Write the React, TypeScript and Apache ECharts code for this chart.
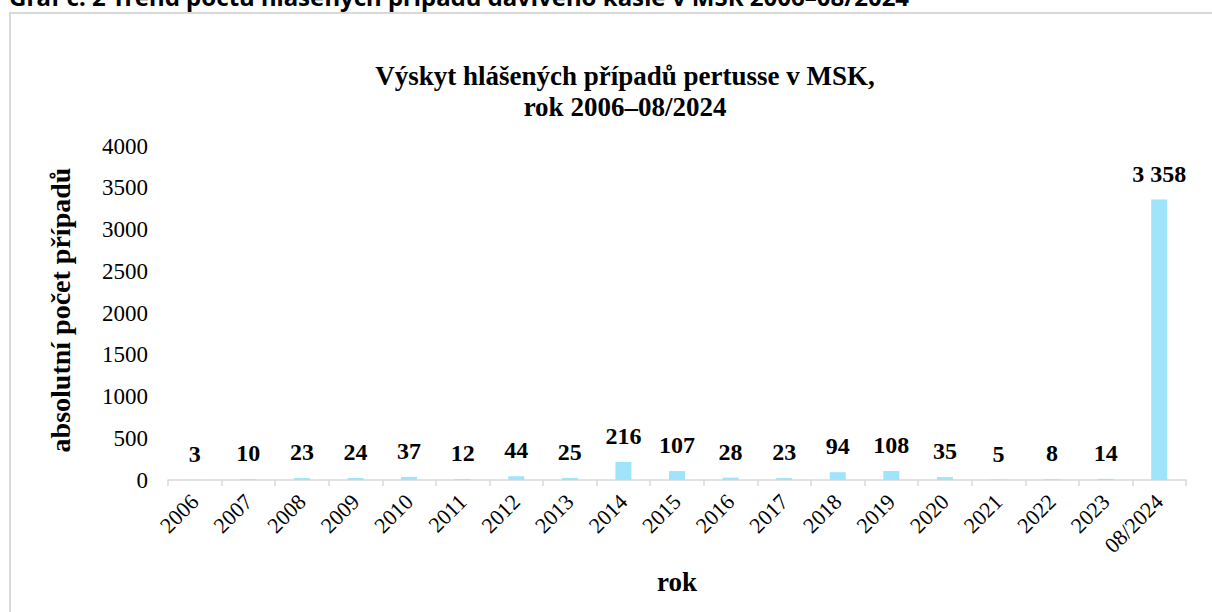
import React, { useEffect, useRef } from "react";
import * as echarts from "echarts";

const categories = ["2006","2007","2008","2009","2010","2011","2012","2013","2014","2015","2016","2017","2018","2019","2020","2021","2022","2023","08/2024"];
const cases = [3,10,23,24,37,12,44,25,216,107,28,23,94,108,35,5,8,14,3358];
const yTicks = [0, 500, 1000, 1500, 2000, 2500, 3000, 3500, 4000];

const headerText = "Graf č. 2 Trend počtu hlášených případů dávivého kašle v MSK 2006–08/2024";
const titleLine1 = "Výskyt hlášených případů pertusse v MSK,";
const titleLine2 = "rok 2006–08/2024";
const yName = "absolutní počet případů";
const xName = "rok";

const SERIF = "'Liberation Serif', 'Times New Roman', serif";

export default function App() {
  const ref = useRef<HTMLDivElement>(null);
  useEffect(() => {
    if (!ref.current) return;
    const chart = echarts.init(ref.current, undefined, { renderer: "svg" });
    chart.setOption({
      animation: false,
      backgroundColor: "#ffffff",
      grid: { left: 168, right: 26, top: 146, bottom: 132, containLabel: false },
      title: {
        text: titleLine1 + "\n" + titleLine2,
        left: 620,
        top: 55,
        textAlign: "center",
        textStyle: { fontFamily: SERIF, fontWeight: "bold", fontSize: 27, lineHeight: 31, color: "#000" },
      },
      xAxis: {
        type: "category",
        data: categories,
        name: xName,
        nameLocation: "middle",
        nameGap: 88,
        nameTextStyle: { fontFamily: SERIF, fontWeight: "bold", fontSize: 27, color: "#000" },
        axisLine: { lineStyle: { color: "#d9d9d9", width: 1.5 } },
        axisTick: { show: true, alignWithLabel: false, length: 6, lineStyle: { color: "#d9d9d9", width: 1.5 } },
        axisLabel: { rotate: 45, margin: 18, fontFamily: SERIF, fontSize: 22, color: "#000", interval: 0 },
      },
      yAxis: {
        type: "value",
        min: 0,
        max: yTicks[yTicks.length - 1],
        interval: 500,
        axisLine: { show: false },
        axisTick: { show: false },
        splitLine: { show: false },
        axisLabel: { fontFamily: SERIF, fontSize: 23, color: "#000", margin: 20, formatter: (v: number) => String(v) },
      },
      graphic: [
        {
          type: "rect",
          shape: { x: 10, y: 13, width: 1300, height: 700 },
          style: { fill: "none", stroke: "#d9d9d9", lineWidth: 2 },
          silent: true,
        },
        {
          type: "text",
          x: 9,
          y: -16,
          style: {
            text: headerText,
            font: "bold 24px 'Noto Sans', 'Open Sans', sans-serif",
            fill: "#000",
            align: "left",
            verticalAlign: "top",
          },
        },
        {
          type: "text",
          x: 60,
          y: 310,
          rotation: Math.PI / 2,
          style: {
            text: yName,
            font: "bold 28px " + SERIF,
            fill: "#000",
            align: "center",
            verticalAlign: "middle",
          },
        },
      ],
      series: [
        {
          type: "bar",
          data: cases,
          barWidth: 16,
          itemStyle: { color: "#9fe4fb" },
          label: {
            show: true,
            position: "top",
            distance: 14,
            fontFamily: SERIF,
            fontWeight: "bold",
            fontSize: 24,
            color: "#000",
            formatter: (p: any) => String(p.value).replace(/\B(?=(\d{3})+(?!\d))/g, " "),
          },
        },
      ],
    });
    return () => chart.dispose();
  }, []);
  return <div ref={ref} style={{ width: 1212, height: 612, position: "absolute", left: 0, top: 0 }} />;
}
